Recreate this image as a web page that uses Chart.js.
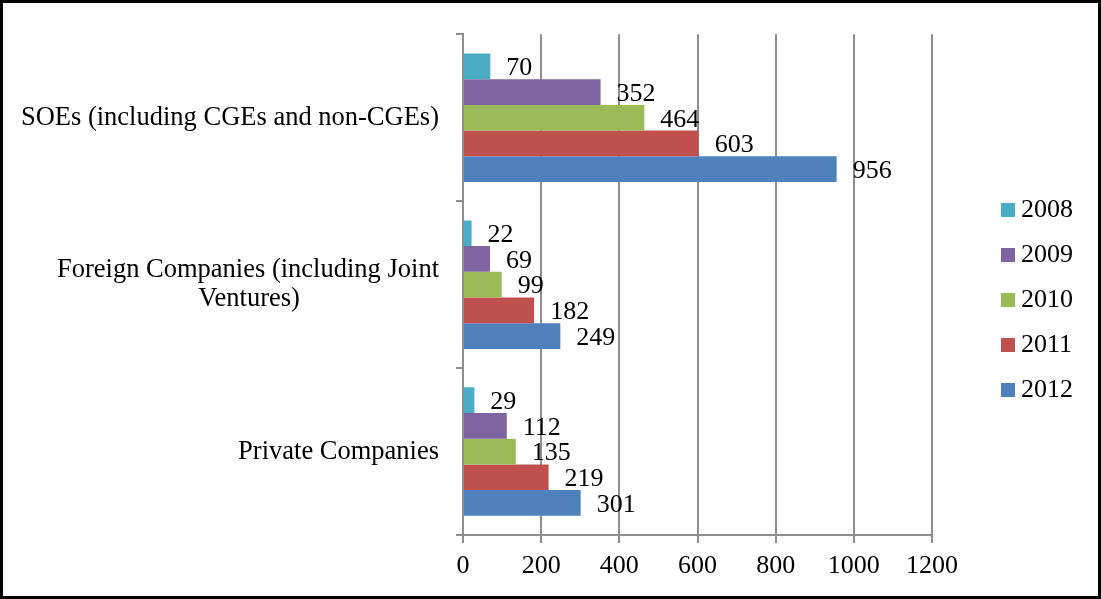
<!DOCTYPE html>
<html>
<head>
<meta charset="utf-8">
<title>Enterprises by ownership type, 2008–2012</title>
<script src="https://cdn.jsdelivr.net/npm/chart.js@4/dist/chart.umd.min.js"></script>
<style>
  html, body { margin: 0; padding: 0; background: #fff; }
  #frame { box-sizing: border-box; width: 1101px; height: 599px; border: 3px solid #000; }
  #frame canvas { display: block; }
</style>
</head>
<body>
<div id="frame"><canvas id="chart" width="1095" height="593"></canvas></div>
<script>
// Categories (top to bottom); a nested array is a label broken over two lines
const categories = [
  'SOEs (including CGEs and non-CGEs)',
  ['Foreign Companies (including Joint', 'Ventures)'],
  'Private Companies'
];

// Series, one per year, values in category order
const years = ['2008', '2009', '2010', '2011', '2012'];
const values2008 = [70, 22, 29];
const values2009 = [352, 69, 112];
const values2010 = [464, 99, 135];
const values2011 = [603, 182, 219];
const values2012 = [956, 249, 301];

// Value axis
const axisMin = 0;
const axisMax = 1200;
const axisStep = 200;

const seriesColors = ['#4BACC6', '#8064A2', '#9BBB59', '#C0504D', '#4F81BD'];
const seriesValues = [values2008, values2009, values2010, values2011, values2012];

const FONT_FAMILY = "'Liberation Serif', 'Times New Roman', Times, serif";
const LABEL_SIZE = 26.5;   // category names
const NUM_SIZE = 26;       // values, ticks and years
const LABEL_CSS = LABEL_SIZE + 'px ' + FONT_FAMILY;
const NUM_CSS = NUM_SIZE + 'px ' + FONT_FAMILY;
const GRID_GREY = '#8e8e8e';

// Pads the shorter lines of a wrapped label so each line sits centred
// under the longest one when the block is right-aligned against the axis.
function centreLines(lines) {
  const m = document.createElement('canvas').getContext('2d');
  m.font = LABEL_CSS;
  const widths = lines.map(l => m.measureText(l).width);
  const widest = Math.max(...widths);
  const space = m.measureText(' ').width;
  return lines.map((l, i) => l + ' '.repeat(Math.round((widest - widths[i]) / 2 / space)));
}
const axisLabels = categories.map(c => Array.isArray(c) ? centreLines(c) : c);

// Writes each bar's value just past its end
const valueLabels = {
  id: 'valueLabels',
  afterDatasetsDraw(chart) {
    const ctx = chart.ctx;
    ctx.save();
    ctx.font = NUM_CSS;
    ctx.fillStyle = '#000';
    ctx.textAlign = 'left';
    ctx.textBaseline = 'middle';
    chart.data.datasets.forEach((ds, di) => {
      chart.getDatasetMeta(di).data.forEach((bar, i) => {
        ctx.fillText(String(ds.data[i]), bar.x + 16, bar.y + 2);
      });
    });
    ctx.restore();
  }
};

// Year key stacked on the right, centred on the canvas height
const yearKey = {
  id: 'yearKey',
  afterDraw(chart) {
    const ctx = chart.ctx;
    const sets = chart.data.datasets;
    const step = 45;
    const mid = chart.height / 2;
    ctx.save();
    ctx.font = NUM_CSS;
    ctx.textAlign = 'left';
    ctx.textBaseline = 'middle';
    sets.forEach((ds, i) => {
      const y = mid + (i - (sets.length - 1) / 2) * step;
      ctx.fillStyle = ds.backgroundColor;
      ctx.fillRect(998, Math.round(y - 7), 14, 14);
      ctx.fillStyle = '#000';
      ctx.fillText(ds.label, 1018, y + 1);
    });
    ctx.restore();
  }
};

new Chart(document.getElementById('chart'), {
  type: 'bar',
  data: {
    labels: axisLabels,
    datasets: years.map((year, i) => ({
      label: year,
      data: seriesValues[i],
      backgroundColor: seriesColors[i],
      borderWidth: 0,
      categoryPercentage: 0.77,
      barPercentage: 1.0
    }))
  },
  options: {
    indexAxis: 'y',
    responsive: false,
    animation: false,
    layout: { padding: { top: 29, right: 166, bottom: 0, left: 0 } },
    plugins: {
      legend: { display: false },
      tooltip: { enabled: false }
    },
    scales: {
      x: {
        min: axisMin,
        max: axisMax,
        ticks: {
          stepSize: axisStep,
          color: '#000',
          padding: 8,
          maxRotation: 0,
          font: { family: FONT_FAMILY, size: NUM_SIZE },
          callback: v => String(v)
        },
        grid: { color: GRID_GREY, lineWidth: 2, tickLength: 8 },
        border: { color: GRID_GREY, width: 2 },
        afterFit(scale) { scale.height = 61; }
      },
      y: {
        ticks: {
          color: '#000',
          padding: 17,
          crossAlign: 'near',
          font: { family: FONT_FAMILY, size: LABEL_SIZE, lineHeight: 1.08 }
        },
        grid: { drawOnChartArea: false, drawTicks: true, tickLength: 7, offset: true, color: GRID_GREY, lineWidth: 2 },
        border: { color: GRID_GREY, width: 2 },
        afterFit(scale) { scale.width = 460; }
      }
    }
  },
  plugins: [valueLabels, yearKey]
});
</script>
</body>
</html>
